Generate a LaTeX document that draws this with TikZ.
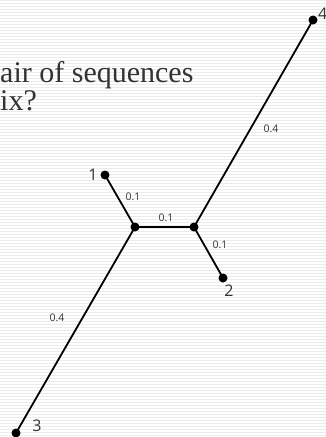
\documentclass[tikz,border=0pt]{standalone}
\usepackage{fontspec}
\setmainfont{Liberation Serif}
\newfontfamily\labfont{Open Sans}
\definecolor{stripe}{HTML}{EBEBEB}
\definecolor{txt}{HTML}{333333}
\begin{document}
\begin{tikzpicture}[x=1pt,y=1pt,
  dot/.style={circle,fill=black,inner sep=0pt,minimum size=9pt},
  edge/.style={line width=1.8pt,black},
  wlab/.style={font=\labfont\fontsize{10.5}{11}\selectfont,text=txt,inner sep=0pt},
  leaf/.style={font=\labfont\fontsize{16}{17}\selectfont,text=txt,inner sep=0pt}]
\useasboundingbox (0,0) rectangle (326,-437);
\fill[white] (0,0) rectangle (326,-437);
\foreach \i in {0,...,145} \fill[stripe] (0,-3*\i) rectangle (326,-3*\i-1.2);
% title text (clipped)
\node[anchor=base west,inner sep=0pt,text=txt,align=left,font=\fontsize{30}{26}\selectfont] (t1) at (0,-110) {air of sequences\\ix?};
% nodes
\node[dot] (n4) at (313,-20) {};
\node[dot] (n1) at (105,-175) {};
\node[dot] (L) at (135,-227) {};
\node[dot] (R) at (194,-227) {};
\node[dot] (n2) at (223,-278) {};
\node[dot] (n3) at (16,-433) {};
% edges
\draw[edge] (n1.center) -- (L.center);
\draw[edge] (L.center) -- (R.center);
\draw[edge] (R.center) -- (n2.center);
\draw[edge] (R.center) -- (n4.center);
\draw[edge] (L.center) -- (n3.center);
% leaf labels
\node[leaf] (l1) at (93,-175) {1};
\node[leaf] (l2) at (229,-291) {2};
\node[leaf] (l3) at (37,-426) {3};
\node[leaf,anchor=west] (l4) at (318,-14) {4};
% weights
\node[wlab] (w1) at (133,-197) {0.1};
\node[wlab] (w2) at (166,-218) {0.1};
\node[wlab] (w3) at (220,-245) {0.1};
\node[wlab] (w4) at (271,-129) {0.4};
\node[wlab] (w5) at (57,-318) {0.4};
\end{tikzpicture}
\end{document}
